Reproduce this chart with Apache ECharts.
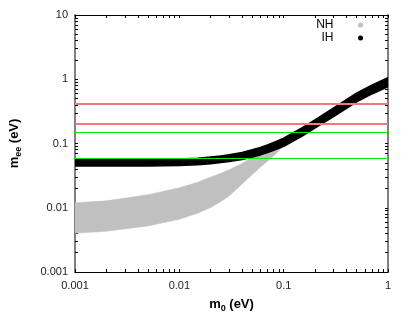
<!DOCTYPE html>
<html>
<head>
<meta charset="utf-8">
<script src="https://cdn.jsdelivr.net/npm/echarts@6/dist/echarts.min.js"></script>
<style>html,body{margin:0;padding:0;background:#fff}#c{width:409px;height:327px}</style>
</head>
<body>
<div id="c"></div>
<script>
// lightest neutrino mass m0 (eV)
const m0Values = [0.001, 0.002, 0.005, 0.01, 0.015, 0.02, 0.025, 0.03, 0.04, 0.05, 0.06, 0.07, 0.085, 0.1, 0.15, 0.2, 0.3, 0.5, 0.7, 1];
// NH band (m_ee range, eV)
const nhLower = [0.0040, 0.0043, 0.0052, 0.0066, 0.0082, 0.0101, 0.0125, 0.0153, 0.0235, 0.033, 0.043, 0.053, 0.070, 0.093, 0.135, 0.180, 0.270, 0.46, 0.61, 0.79];
const nhUpper = [0.0120, 0.0128, 0.0160, 0.0205, 0.025, 0.030, 0.0345, 0.039, 0.049, 0.062, 0.072, 0.082, 0.096, 0.11, 0.16, 0.215, 0.345, 0.59, 0.78, 1.02];
// IH band (m_ee range, eV)
const ihLower = [0.045, 0.045, 0.0452, 0.046, 0.0472, 0.049, 0.051, 0.053, 0.057, 0.062, 0.067, 0.073, 0.082, 0.091, 0.131, 0.176, 0.263, 0.448, 0.595, 0.775];
const ihUpper = [0.0555, 0.0555, 0.0558, 0.057, 0.0585, 0.061, 0.0635, 0.066, 0.072, 0.079, 0.086, 0.094, 0.107, 0.12, 0.174, 0.232, 0.353, 0.603, 0.80, 1.045];
// horizontal bounds (eV)
const redBounds = [0.41, 0.196];
const greenBounds = [0.155, 0.06];
// tick positions
const xTicks = [0.001,0.002,0.003,0.004,0.005,0.006,0.007,0.008,0.009,0.01,0.02,0.03,0.04,0.05,0.06,0.07,0.08,0.09,0.1,0.2,0.3,0.4,0.5,0.6,0.7,0.8,0.9,1];
const yTicks = [0.001,0.002,0.003,0.004,0.005,0.006,0.007,0.008,0.009,0.01,0.02,0.03,0.04,0.05,0.06,0.07,0.08,0.09,0.1,0.2,0.3,0.4,0.5,0.6,0.7,0.8,0.9,1,2,3,4,5,6,7,8,9,10];
const xLabels = ['0.001', '0.01', '0.1', '1'];
const yLabels = ['0.001', '0.01', '0.1', '1', '10'];

const chart = echarts.init(document.getElementById('c'), null, {renderer: 'canvas'});
const FONT = 'Liberation Sans';
const tickStyle = {show: true, inside: true, length: 3, lineStyle: {color: '#000', width: 1}};

function xAxisDef(pos, showLabel, lineColor, lineWidth) {
  return {
    type: 'log', logBase: 10, min: 0.001, max: 1, position: pos,
    axisLine: {show: true, lineStyle: {color: lineColor, width: lineWidth}},
    axisTick: Object.assign({customValues: xTicks}, tickStyle),
    axisLabel: showLabel ? {show: true, customValues: xLabels.map(Number), formatter: v => xLabels.find(l => Number(l) === v) || String(v), color: '#222', fontFamily: FONT, fontSize: 11, margin: 8} : {show: false},
    splitLine: {show: false}, minorTick: {show: false}
  };
}
function yAxisDef(pos, showLabel, lineColor, lineWidth) {
  return {
    type: 'log', logBase: 10, min: 0.001, max: 10, position: pos,
    axisLine: {show: true, lineStyle: {color: lineColor, width: lineWidth}},
    axisTick: Object.assign({customValues: yTicks}, tickStyle),
    axisLabel: showLabel ? {show: true, customValues: yLabels.map(Number), formatter: v => yLabels.find(l => Number(l) === v) || String(v), color: '#222', fontFamily: FONT, fontSize: 11, margin: 7} : {show: false},
    splitLine: {show: false}, minorTick: {show: false}
  };
}

const richName = {
  m: {fontFamily: FONT, fontWeight: 'bold', fontSize: 13, color: '#000'},
  s: {fontFamily: FONT, fontWeight: 'bold', fontSize: 9, color: '#000', verticalAlign: 'bottom', padding: [8, 0, 0, 0]}
};
const xMain = xAxisDef('bottom', true, '#000', 1);
xMain.name = '{m|m}{s|0}{m| (eV)}';
xMain.nameLocation = 'middle';
xMain.nameGap = 24;
xMain.nameTextStyle = {rich: richName};
const yMain = yAxisDef('left', true, '#808080', 2);
yMain.name = '{m|m}{s|ee}{m| (eV)}';
yMain.nameLocation = 'middle';
yMain.nameRotate = 90;
yMain.nameGap = 52;
yMain.nameTextStyle = {rich: richName};

const legendBase = {
  orient: 'vertical', right: 46, align: 'right', itemWidth: 44, itemHeight: 5,
  selectedMode: false, textStyle: {fontFamily: FONT, fontSize: 12, color: '#000'}, padding: 0
};

// band drawn as one polygon through the axes' scales
function bandSeries(name, lower, upper, fill, stroke, strokeWidth, z) {
  return {
    name: name, type: 'custom', clip: true, z: z,
    itemStyle: {color: fill},
    data: m0Values.map((x, i) => [x, lower[i], upper[i]]),
    encode: {x: 0, y: [1, 2]},
    renderItem: function (params, api) {
      if (params.dataIndex !== 0) return null;
      const pts = [];
      for (let i = 0; i < m0Values.length; i++) pts.push(api.coord([m0Values[i], lower[i]]));
      for (let i = m0Values.length - 1; i >= 0; i--) pts.push(api.coord([m0Values[i], upper[i]]));
      return {
        type: 'polygon',
        shape: {points: pts},
        style: {fill: fill, stroke: stroke, lineWidth: strokeWidth, lineJoin: 'round'}
      };
    }
  };
}

const option = {
  animation: false,
  backgroundColor: '#fff',
  grid: {left: 69, right: 21, top: 15, bottom: 55},
  legend: [
    Object.assign({top: 19, data: [{name: 'NH', icon: 'circle', itemStyle: {color: '#c0c0c0'}}]}, legendBase),
    Object.assign({top: 32, data: [{name: 'IH', icon: 'circle', itemStyle: {color: '#000'}}]}, legendBase)
  ],
  xAxis: [xMain, xAxisDef('top', false, '#000', 1)],
  yAxis: [yMain, yAxisDef('right', false, '#808080', 2)],
  series: [
    bandSeries('NH', nhLower, nhUpper, '#c0c0c0', '#c0c0c0', 0.5, 2),
    bandSeries('IH', ihLower, ihUpper, '#000', '#000', 2, 3),
    {
      name: 'bounds', type: 'line', data: [], z: 4,
      markLine: {
        silent: true, symbol: 'none', label: {show: false}, animation: false,
        data: redBounds.map(v => ({yAxis: v, lineStyle: {color: '#f47a7a', width: 2, type: 'solid'}}))
          .concat(greenBounds.map(v => ({yAxis: v, lineStyle: {color: '#00ee00', width: 1.2, type: 'solid'}})))
      }
    }
  ]
};
chart.setOption(option);
</script>
</body>
</html>
